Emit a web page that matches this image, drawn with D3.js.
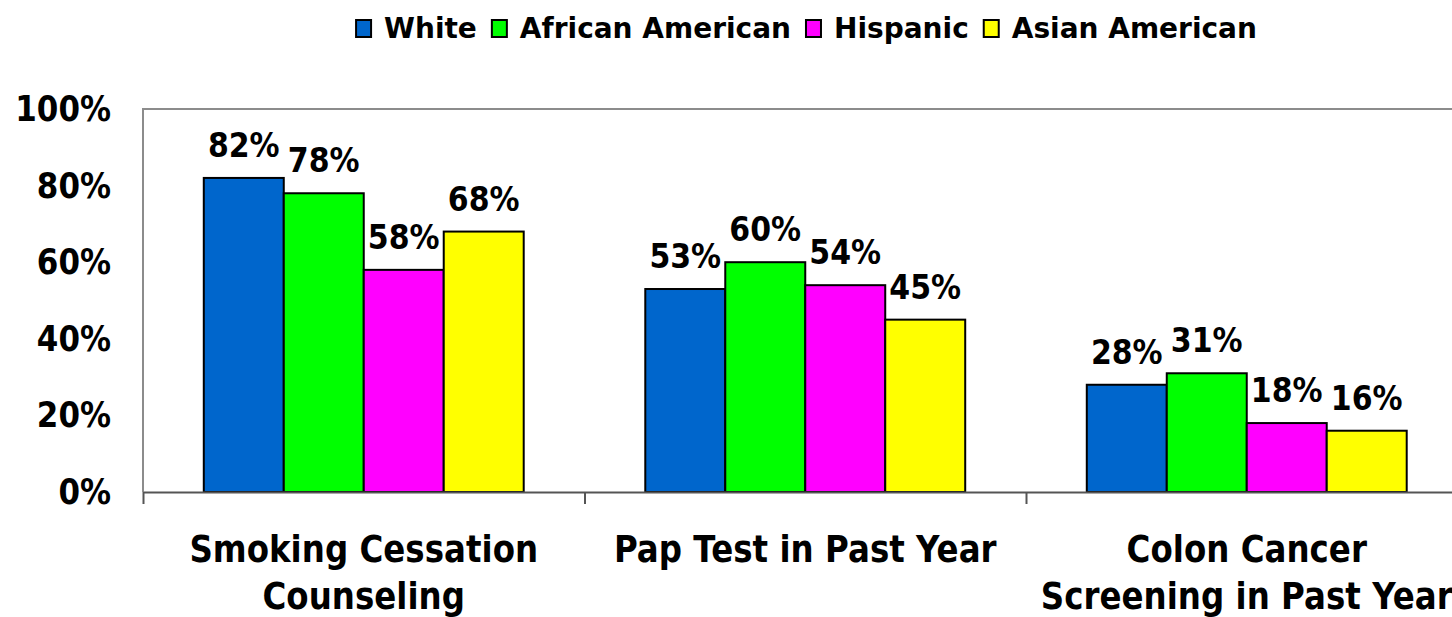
<!DOCTYPE html>
<html><head><meta charset="utf-8">
<script src="https://cdn.jsdelivr.net/npm/d3@7"></script>
<style>body{margin:0;background:#fff;}svg{display:block;}text{font-family:"DejaVu Sans",sans-serif;font-weight:bold;fill:#000;}</style>
</head><body>
<svg id="c" width="1452" height="617"></svg>
<script>
const categories = [["Smoking Cessation","Counseling"],["Pap Test in Past Year"],["Colon Cancer","Screening in Past Year"]];
const series = ["White","African American","Hispanic","Asian American"];
const colors = ["#0066CC","#00FF00","#FF00FF","#FFFF00"];
const white = [82,53,28];
const africanAmerican = [78,60,31];
const hispanic = [58,54,18];
const asianAmerican = [68,45,16];
const yTicks = [0,20,40,60,80,100];

const values = [white, africanAmerican, hispanic, asianAmerican];
const svg = d3.select("#c");
const plotLeft = 143, plotTop = 109, plotBottom = 492, catW = 441.5;
const plotRight = plotLeft + catW*categories.length;

const x0 = d3.scaleBand().domain(d3.range(categories.length)).range([plotLeft,plotRight]).padding(0);
const x1 = d3.scaleBand().domain(d3.range(series.length)).range([0,x0.bandwidth()]).paddingInner(0).paddingOuter(0.76);
const y = d3.scaleLinear().domain([0,100]).range([plotBottom,plotTop]);

// plot frame (left & top)
svg.append("path").attr("d",`M${plotLeft},${plotBottom}V${plotTop}H${plotRight}`).attr("fill","none").attr("stroke","#8c8c8c").attr("stroke-width",2);

// bars
categories.forEach((c,ci)=>{
  series.forEach((s,si)=>{
    const v = values[si][ci];
    const bx = x0(ci)+x1(si);
    svg.append("rect").attr("x",bx).attr("y",y(v)).attr("width",x1.bandwidth()).attr("height",plotBottom-y(v))
      .attr("fill",colors[si]).attr("stroke","#000").attr("stroke-width",2);
    svg.append("text").attr("transform",`translate(${bx+x1.bandwidth()/2},${y(v)-21}) scale(1,1.15)`).attr("text-anchor","middle")
      .attr("font-size",30).text(v+"%");
  });
});

// x axis
const xAxis = d3.axisBottom(d3.scaleLinear().domain([0,categories.length]).range([plotLeft,plotRight]))
  .tickValues(d3.range(categories.length+1)).tickSize(12).tickSizeOuter(0).tickFormat("");
const gx = svg.append("g").attr("transform",`translate(0,${plotBottom})`).call(xAxis);
gx.selectAll("path,line").attr("stroke","#555").attr("stroke-width",2);

// category labels
categories.forEach((lines,ci)=>{
  const cx = x0(ci)+x0.bandwidth()/2;
  const t = svg.append("text").attr("transform",`translate(${cx},562) scale(1,1.12)`).attr("text-anchor","middle").attr("font-size",32.5);
  lines.forEach((l,li)=>t.append("tspan").attr("x",0).attr("dy",li?42:0).text(l));
});

// y axis labels
const yAxis = d3.axisLeft(y).tickValues(yTicks).tickSize(0).tickPadding(0).tickFormat(d=>d+"%");
const gy = svg.append("g").attr("transform",`translate(111,0)`).call(yAxis);
gy.select(".domain").remove();
gy.selectAll("text").attr("font-size",31).attr("transform","scale(1,1.15)").style("font-family",'"DejaVu Sans",sans-serif').style("font-weight","bold").attr("fill","#000");

// legend
const lg = svg.append("g");
let lx = 0;
series.forEach((s,si)=>{
  const g = lg.append("g").attr("transform",`translate(${lx},0)`);
  g.append("rect").attr("x",1).attr("y",20).attr("width",15).attr("height",17).attr("fill",colors[si]).attr("stroke","#000").attr("stroke-width",2);
  const t = g.append("text").attr("x",29).attr("y",38).attr("font-size",28).text(s);
  lx += 29 + t.node().getComputedTextLength() + 14;
});
lx -= 14;
lg.attr("transform",`translate(${806-lx/2},0)`);
</script>
</body></html>
